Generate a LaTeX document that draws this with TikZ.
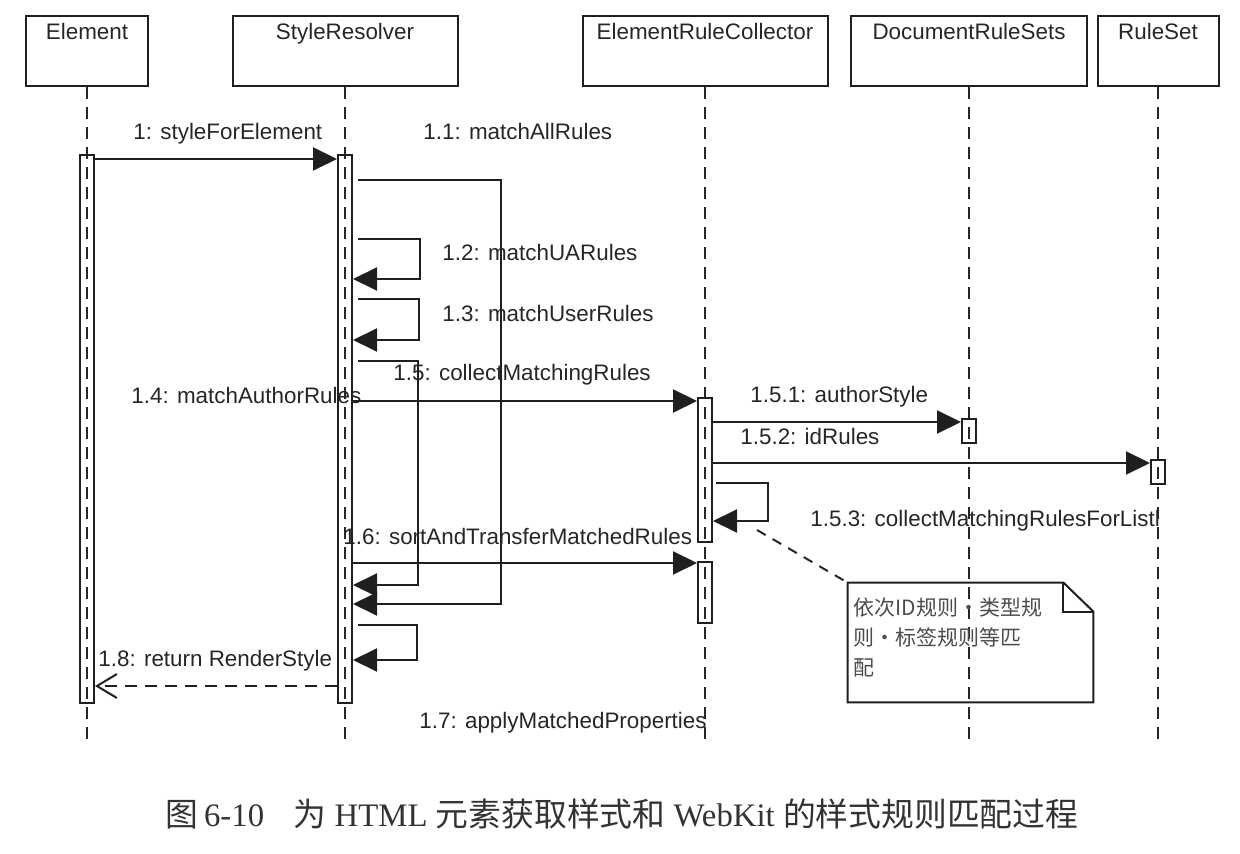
\documentclass[tikz,border=0pt]{standalone}
\usepackage{fontspec}
\setmainfont{Liberation Sans}
\newfontfamily\cjk{Noto Sans CJK SC}
\newfontfamily\capserif{Liberation Serif}
\usetikzlibrary{arrows.meta,calc}
\begin{document}
\begin{tikzpicture}[x=0.5pt,y=-0.5pt,
  ink/.style={draw=black!88, line width=1pt},
  objbox/.style={ink, minimum height=35pt, inner sep=0pt},
  objtitle/.style={font=\fontsize{11.2}{13}\selectfont, text=black!85, inner sep=0pt, anchor=base},
  lifeline/.style={draw=black!85, line width=1pt, dash pattern=on 6pt off 4pt},
  actbar/.style={ink, minimum width=7pt, inner sep=0pt},
  msg/.style={draw=black!88, line width=1pt, -{Triangle[length=12pt,width=11.5pt]}},
  retmsg/.style={draw=black!88, line width=1pt, dash pattern=on 6pt off 4pt, -{Straight Barb[length=10pt,width=12pt]}},
  lbl/.style={font=\fontsize{11.2}{13}\selectfont, text=black!85, inner sep=0pt, anchor=base west},
]
\useasboundingbox (0,0) rectangle (1240,854);

% object boxes
\node[objbox, minimum width=61pt]   (e)  at (87,51)   {};
\node[objbox, minimum width=112.5pt] (s)  at (345,51)  {};
\node[objbox, minimum width=122.5pt] (c)  at (705,51)  {};
\node[objbox, minimum width=118pt]   (d)  at (969,51)  {};
\node[objbox, minimum width=60.5pt]  (r)  at (1158,51) {};
\node[objtitle] (et) at (87,40)   {Element};
\node[objtitle] (st) at (345,40)  {StyleResolver};
\node[objtitle] (ct) at (705,40)  {ElementRuleCollector};
\node[objtitle] (dt) at (969,40)  {DocumentRuleSets};
\node[objtitle] (rt) at (1158,40) {RuleSet};

% lifelines
\foreach \n in {e,s,c,d,r}{
  \draw[lifeline] (\n.south) -- (\n.south |- 0,745);
}

% activation bars
\node[actbar, minimum height=274pt] (eb) at (87,429) {};
\node[actbar, minimum height=274pt] (sb) at (345,429) {};
\node[actbar, minimum height=72pt]  (cb1) at (705,470) {};
\node[actbar, minimum height=30.5pt] (cb2) at (705,592.5) {};
\node[actbar, minimum height=12pt]  (db) at (969,431) {};
\node[actbar, minimum height=12pt]  (rb) at (1158,472) {};

% 1
\draw[msg] (eb.east |- 0,159) -- (sb.west |- 0,159);
\node[lbl] (l1) at (133,140) {1: styleForElement};
% 1.1
\draw[msg] ($(sb.east |- 0,180)+(5,0)$) -| (501,604) -- (sb.east |- 0,604);
\node[lbl] (l11) at (423,140) {1.1: matchAllRules};
% 1.2
\draw[msg] ($(sb.east |- 0,239)+(5,0)$) -| (420,279) -- (sb.east |- 0,279);
\node[lbl] (l12) at (442,261) {1.2: matchUARules};
% 1.3
\draw[msg] ($(sb.east |- 0,299)+(5,0)$) -| (419,340) -- (sb.east |- 0,340);
\node[lbl] (l13) at (442,322) {1.3: matchUserRules};
% 1.5
\draw[msg] ($(sb.east |- 0,361)+(5,0)$) -| (418,585) -- (sb.east |- 0,585);
\node[lbl] (l15) at (393,381) {1.5: collectMatchingRules};
% 1.4
\draw[msg] (sb.east |- 0,401) -- (cb1.west |- 0,401);
\node[lbl] (l14) at (131,404) {1.4: matchAuthorRules};
% 1.5.1
\draw[msg] (cb1.east |- 0,422) -- (db.west |- 0,422);
\node[lbl] (l151) at (750,403) {1.5.1: authorStyle};
% 1.5.2
\draw[msg] (cb1.east |- 0,463) -- (rb.west |- 0,463);
\node[lbl] (l152) at (740,445) {1.5.2: idRules};
% 1.5.3
\draw[msg] ($(cb1.east |- 0,483)+(3,0)$) -| (768,521) -- (cb1.east |- 0,521);
\node[lbl] (l153) at (810,526) {1.5.3: collectMatchingRulesForListl};
% 1.6
\draw[msg] (sb.east |- 0,563) -- (cb2.west |- 0,563);
\node[lbl] (l16) at (343,545) {1.6: sortAndTransferMatchedRules};
% 1.7
\draw[msg] ($(sb.east |- 0,625)+(5,0)$) -| (417,660) -- (sb.east |- 0,660);
\node[lbl] (l17) at (419,728) {1.7: applyMatchedProperties};
% 1.8
\draw[retmsg] (sb.west |- 0,686) -- (eb.east |- 0,686);
\node[lbl] (l18) at (98,666) {1.8: return RenderStyle};

% note
\node[minimum width=122.5pt, minimum height=59.5pt, inner sep=0pt] (note) at (970.5,642.5) {};
\draw[ink] (note.north west) -- ($(note.north east)+(-30,0)$) -- ($(note.north east)+(0,29)$)
  -- (note.south east) -- (note.south west) -- cycle;
\draw[ink] ($(note.north east)+(-30,0)$) -- ($(note.north east)+(-30,29)$) -- ($(note.north east)+(0,29)$);
\node[anchor=north west, align=left, font=\cjk\fontsize{10.5}{15}\selectfont, text=black!70, inner sep=0pt] (notetext) at (853,597)
  {依次ID规则・类型规\\则・标签规则等匹\\配};
\coordinate (nstart) at (757,530);
\draw[draw=black!85, line width=1pt, dash pattern=on 5pt off 4pt] (nstart) -- (note.north west);

% caption
\node[font=\capserif\fontsize{16.4}{20}\selectfont, text=black!80, inner sep=0pt] (cap) at (622,814)
  {{\cjk 图}\,6-10\hspace{0.9em}{\cjk 为}\ HTML\ {\cjk 元素获取样式和}\ WebKit\ {\cjk 的样式规则匹配过程}};
\end{tikzpicture}
\end{document}
